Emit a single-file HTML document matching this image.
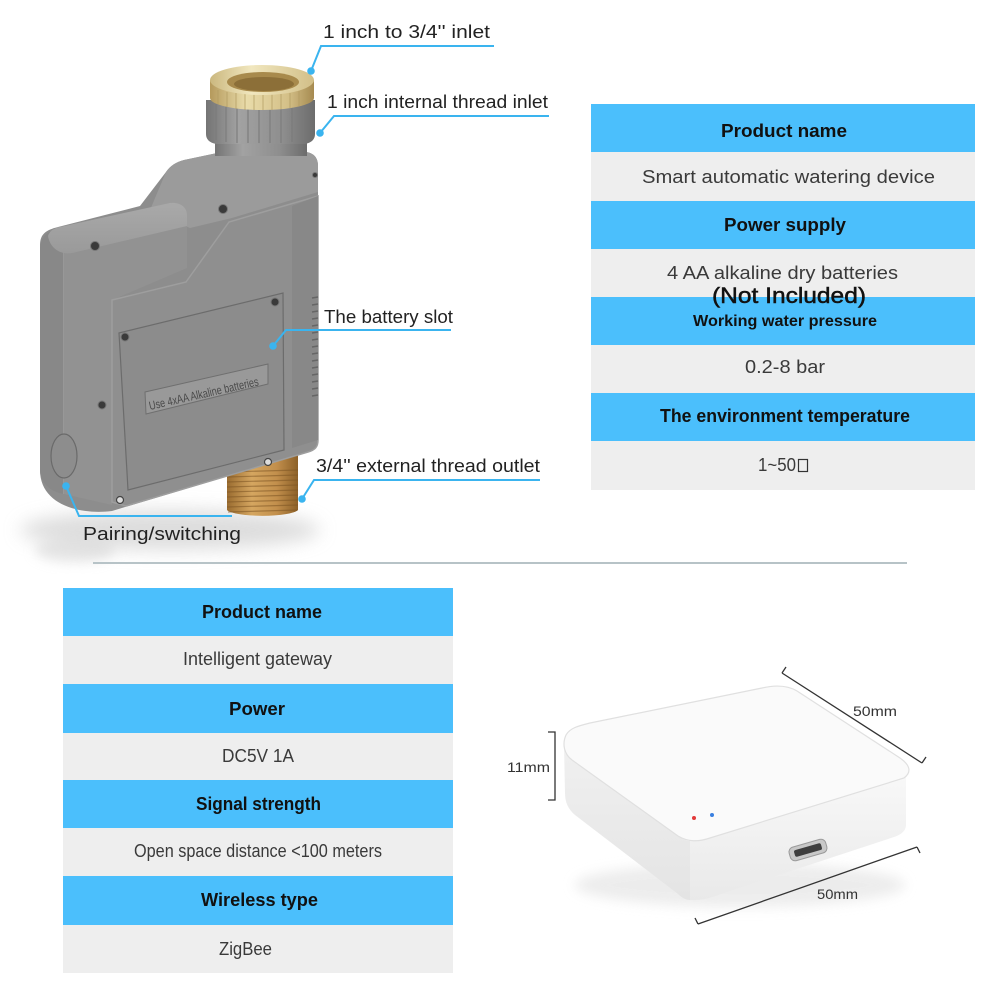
<!DOCTYPE html>
<html><head><meta charset="utf-8"><style>
html,body{margin:0;padding:0;background:#fff;}
svg{display:block;}
text{font-family:"Liberation Sans",sans-serif;}
</style></head><body>
<svg width="1000" height="1000" viewBox="0 0 1000 1000" xmlns="http://www.w3.org/2000/svg">
<defs>
  <filter id="blur" x="-50%" y="-50%" width="200%" height="200%"><feGaussianBlur stdDeviation="9"/></filter>
  <filter id="blur2" x="-50%" y="-50%" width="200%" height="200%"><feGaussianBlur stdDeviation="6"/></filter>
  <linearGradient id="brassTop" x1="0" x2="1" y1="0" y2="0">
    <stop offset="0" stop-color="#cbb87f"/><stop offset="0.4" stop-color="#f1e7bf"/><stop offset="1" stop-color="#d2bf88"/>
  </linearGradient>
  <linearGradient id="brassSide" x1="0" x2="1" y1="0" y2="0">
    <stop offset="0" stop-color="#b59a5c"/><stop offset="0.35" stop-color="#e9dcaa"/><stop offset="0.75" stop-color="#d4c088"/><stop offset="1" stop-color="#a68a50"/>
  </linearGradient>
  <linearGradient id="brassOut" x1="0" x2="1" y1="0" y2="0">
    <stop offset="0" stop-color="#9a6c30"/><stop offset="0.35" stop-color="#d5a660"/><stop offset="0.7" stop-color="#c28f4c"/><stop offset="1" stop-color="#8c6028"/>
  </linearGradient>
  <linearGradient id="nut" x1="0" x2="1" y1="0" y2="0">
    <stop offset="0" stop-color="#747474"/><stop offset="0.3" stop-color="#a2a2a2"/><stop offset="0.7" stop-color="#8e8e8e"/><stop offset="1" stop-color="#6c6c6c"/>
  </linearGradient>
  <linearGradient id="bumpTop" x1="0" x2="0" y1="0" y2="1">
    <stop offset="0" stop-color="#a9a9a9"/><stop offset="1" stop-color="#9a9a9a"/>
  </linearGradient>
  <linearGradient id="gwR" x1="0" x2="0" y1="0" y2="1">
    <stop offset="0" stop-color="#f8f8f8"/><stop offset="1" stop-color="#e9e9e9"/>
  </linearGradient>
  <linearGradient id="gwL" x1="0" x2="0" y1="0" y2="1">
    <stop offset="0" stop-color="#f0f0f0"/><stop offset="1" stop-color="#e4e4e4"/>
  </linearGradient>
</defs>

<!-- ============ DEVICE ============ -->
<ellipse cx="170" cy="530" rx="150" ry="20" fill="#cfcfcf" opacity="0.7" filter="url(#blur)"/>
<ellipse cx="75" cy="550" rx="40" ry="12" fill="#d5d5d5" opacity="0.6" filter="url(#blur2)"/>

<!-- outlet brass -->
<path d="M227,452 L298,452 L298,510 A36,7 0 0 1 227,510 Z" fill="url(#brassOut)"/>
<g stroke="#7d5524" stroke-width="1.2" opacity="0.55">
  <line x1="227" y1="472" x2="298" y2="470"/><line x1="227" y1="477" x2="298" y2="475"/>
  <line x1="227" y1="482" x2="298" y2="480"/><line x1="227" y1="487" x2="298" y2="485"/>
  <line x1="227" y1="492" x2="298" y2="490"/><line x1="227" y1="497" x2="298" y2="495"/>
  <line x1="227" y1="502" x2="298" y2="500"/><line x1="227" y1="507" x2="298" y2="505"/>
  <line x1="228" y1="512" x2="297" y2="510"/>
</g>

<!-- body silhouette -->
<path d="M40,245 C40,234 46,230 58,227 L140,206 L166,172 C170,166 176,162 184,160 L222,152 L306,152 C314,153 318,158 318,166 L318,440 C318,447 315,450 308,452 L112,511 C80,515 40,505 40,470 Z" fill="#8d8d8d"/>
<!-- upper block top -->
<path d="M166,172 C170,166 176,162 184,160 L222,152 L306,152 C314,153 318,158 318,166 L318,192 L232,218 L190,228 L150,210 Z" fill="#9b9b9b"/>
<!-- left piece side -->
<path d="M40,250 C40,238 46,232 56,230 L64,236 L64,494 C50,492 40,482 40,470 Z" fill="#888888"/>
<line x1="64" y1="238" x2="64" y2="494" stroke="#9d9d9d" stroke-width="1.5"/>
<!-- bump front face -->
<path d="M64,250 L187,222 L187,268 L112,300 L112,505 L64,494 Z" fill="#929292"/>
<!-- bump top -->
<path d="M48,236 C50,230 55,228 60,227 L170,203 C180,202 187,207 187,215 L187,226 L72,253 C60,255 50,248 48,236 Z" fill="url(#bumpTop)"/>
<!-- front face -->
<path d="M112,300 L186,282 L229,222 L318,196 L318,440 C318,447 315,450 308,452 L126,506 L112,502 Z" fill="#8f8f8f" stroke="#9e9e9e" stroke-width="1.5"/>
<!-- right side strip -->
<path d="M292,206 L318,196 L318,440 L292,448 Z" fill="#888888"/>
<!-- battery cover -->
<path d="M119,333 L283,293 L284,450 L128,490 Z" fill="#8c8c8c" stroke="#6c6c6c" stroke-width="1.2"/>
<!-- label plate -->
<path d="M145,392 L268,364 L268,384 L146,414 Z" fill="#999999" stroke="#6f6f6f" stroke-width="1"/>
<text x="150" y="410" font-size="12" fill="#4a4a4a" textLength="112" lengthAdjust="spacingAndGlyphs" transform="rotate(-12.8 150 410)">Use 4xAA Alkaline batteries</text>
<!-- vents -->
<g stroke="#666" stroke-width="1.6">
  <line x1="312" y1="298" x2="318" y2="297"/><line x1="312" y1="305" x2="318" y2="304"/>
  <line x1="312" y1="312" x2="318" y2="311"/><line x1="312" y1="319" x2="318" y2="318"/>
  <line x1="312" y1="326" x2="318" y2="325"/><line x1="312" y1="333" x2="318" y2="332"/>
  <line x1="312" y1="340" x2="318" y2="339"/><line x1="312" y1="347" x2="318" y2="346"/>
  <line x1="312" y1="354" x2="318" y2="353"/><line x1="312" y1="361" x2="318" y2="360"/>
  <line x1="312" y1="368" x2="318" y2="367"/><line x1="312" y1="375" x2="318" y2="374"/>
  <line x1="312" y1="382" x2="318" y2="381"/><line x1="312" y1="389" x2="318" y2="388"/>
  <line x1="312" y1="396" x2="318" y2="395"/>
</g>
<!-- pairing button -->
<ellipse cx="64" cy="456" rx="13" ry="22" fill="#8d8d8d" stroke="#6a6a6a" stroke-width="1.2"/>
<!-- screws -->
<g fill="#3a3a3a" stroke="#777" stroke-width="1">
  <circle cx="125" cy="337" r="4"/><circle cx="275" cy="302" r="4"/>
  <circle cx="102" cy="405" r="4"/><circle cx="223" cy="209" r="4.5"/>
  <circle cx="95" cy="246" r="4.5"/><circle cx="315" cy="175" r="2.5"/>
</g>
<g fill="#dcdcdc" stroke="#444" stroke-width="1.2">
  <circle cx="268" cy="462" r="3.5"/><circle cx="120" cy="500" r="3.5"/>
</g>

<!-- neck & nut -->
<rect x="215" y="132" width="92" height="24" fill="url(#nut)"/>
<path d="M206,100 L315,100 L315,134 Q315,142 305,144 L216,144 Q206,142 206,134 Z" fill="url(#nut)"/>
<g stroke="#7a7a7a" stroke-width="1.5" opacity="0.7">
  <line x1="216" y1="104" x2="216" y2="140"/><line x1="226" y1="104" x2="226" y2="142"/>
  <line x1="237" y1="104" x2="237" y2="143"/><line x1="248" y1="104" x2="248" y2="143"/>
  <line x1="259" y1="104" x2="259" y2="143"/><line x1="270" y1="104" x2="270" y2="143"/>
  <line x1="281" y1="104" x2="281" y2="143"/><line x1="292" y1="104" x2="292" y2="142"/>
  <line x1="303" y1="104" x2="303" y2="140"/>
</g>
<!-- brass ring -->
<path d="M210,80 L314,80 L314,98 A52,12 0 0 1 210,98 Z" fill="url(#brassSide)"/>
<g stroke="#b09a60" stroke-width="1" opacity="0.7">
  <line x1="218" y1="90" x2="218" y2="104"/><line x1="227" y1="92" x2="227" y2="107"/>
  <line x1="236" y1="93" x2="236" y2="109"/><line x1="245" y1="94" x2="245" y2="110"/>
  <line x1="254" y1="94" x2="254" y2="110"/><line x1="263" y1="94" x2="263" y2="110"/>
  <line x1="272" y1="94" x2="272" y2="110"/><line x1="281" y1="94" x2="281" y2="109"/>
  <line x1="290" y1="93" x2="290" y2="108"/><line x1="299" y1="91" x2="299" y2="106"/>
  <line x1="307" y1="89" x2="307" y2="103"/>
</g>
<ellipse cx="262" cy="80" rx="52" ry="15" fill="url(#brassTop)"/>
<ellipse cx="263" cy="82" rx="36" ry="10" fill="#a88a4c"/>
<ellipse cx="264" cy="84" rx="30" ry="7" fill="#8c6f38"/>

<!-- callouts -->
<g stroke="#3ab4ef" stroke-width="2" fill="none">
  <polyline points="311,71 321,46 494,46"/>
  <polyline points="320,133 334,116 549,116"/>
  <polyline points="273,346 286,330 451,330"/>
  <polyline points="302,499 314,480 540,480"/>
  <polyline points="66,486 79,516 232,516"/>
</g>
<g fill="#3ab4ef">
  <circle cx="311" cy="71" r="3.8"/><circle cx="320" cy="133" r="3.8"/>
  <circle cx="273" cy="346" r="3.8"/><circle cx="302" cy="499" r="3.8"/>
  <circle cx="66" cy="486" r="3.8"/>
</g>
<g font-size="18" fill="#222">
  <text x="323" y="38" textLength="167" lengthAdjust="spacingAndGlyphs">1 inch to 3/4'' inlet</text>
  <text x="327" y="108" textLength="221" lengthAdjust="spacingAndGlyphs">1 inch internal thread inlet</text>
  <text x="324" y="323" textLength="129" lengthAdjust="spacingAndGlyphs">The battery slot</text>
  <text x="316" y="472" textLength="224" lengthAdjust="spacingAndGlyphs">3/4'' external thread outlet</text>
  <text x="83" y="540" textLength="158" lengthAdjust="spacingAndGlyphs">Pairing/switching</text>
</g>

<!-- ============ TOP-RIGHT TABLE ============ -->
<rect x="591" y="104" width="384" height="48" fill="#4bbffc"/>
<rect x="591" y="152" width="384" height="49" fill="#eeeeee"/>
<rect x="591" y="201" width="384" height="48" fill="#4bbffc"/>
<rect x="591" y="249" width="384" height="48" fill="#eeeeee"/>
<rect x="591" y="297" width="384" height="48" fill="#4bbffc"/>
<rect x="591" y="345" width="384" height="48" fill="#eeeeee"/>
<rect x="591" y="393" width="384" height="48" fill="#4bbffc"/>
<rect x="591" y="441" width="384" height="49" fill="#eeeeee"/>

<g font-size="18" font-weight="bold" fill="#111">
  <text x="721" y="137" textLength="126" lengthAdjust="spacingAndGlyphs">Product name</text>
  <text x="724" y="231" textLength="122" lengthAdjust="spacingAndGlyphs">Power supply</text>
  <text x="693" y="326" font-size="16" textLength="184" lengthAdjust="spacingAndGlyphs">Working water pressure</text>
  <text x="660" y="422" textLength="250" lengthAdjust="spacingAndGlyphs">The environment temperature</text>
</g>
<g font-size="18" fill="#3a3a3a">
  <text x="642" y="183" textLength="293" lengthAdjust="spacingAndGlyphs">Smart automatic watering device</text>
  <text x="667" y="279" textLength="231" lengthAdjust="spacingAndGlyphs">4 AA alkaline dry batteries</text>
  <text x="745" y="373" textLength="80" lengthAdjust="spacingAndGlyphs">0.2-8 bar</text>
  <text x="758" y="471" textLength="38" lengthAdjust="spacingAndGlyphs">1~50</text>
</g>
<rect x="798.5" y="459.5" width="9" height="12" fill="none" stroke="#333" stroke-width="1.2"/>
<text x="712" y="303" font-size="22" fill="#111" stroke="#111" stroke-width="0.5" textLength="154" lengthAdjust="spacingAndGlyphs">(Not Included)</text>

<!-- separator -->
<line x1="93" y1="563" x2="907" y2="563" stroke="#b7c3c7" stroke-width="2"/>

<!-- ============ BOTTOM-LEFT TABLE ============ -->
<rect x="63" y="588" width="390" height="48" fill="#4bbffc"/>
<rect x="63" y="636" width="390" height="48" fill="#eeeeee"/>
<rect x="63" y="684" width="390" height="49" fill="#4bbffc"/>
<rect x="63" y="733" width="390" height="47" fill="#eeeeee"/>
<rect x="63" y="780" width="390" height="48" fill="#4bbffc"/>
<rect x="63" y="828" width="390" height="48" fill="#eeeeee"/>
<rect x="63" y="876" width="390" height="49" fill="#4bbffc"/>
<rect x="63" y="925" width="390" height="48" fill="#eeeeee"/>

<g font-size="18" font-weight="bold" fill="#111">
  <text x="202" y="618" textLength="120" lengthAdjust="spacingAndGlyphs">Product name</text>
  <text x="229" y="715" textLength="56" lengthAdjust="spacingAndGlyphs">Power</text>
  <text x="196" y="810" textLength="125" lengthAdjust="spacingAndGlyphs">Signal strength</text>
  <text x="201" y="906" textLength="117" lengthAdjust="spacingAndGlyphs">Wireless type</text>
</g>
<g font-size="18" fill="#3a3a3a">
  <text x="183" y="665" textLength="149" lengthAdjust="spacingAndGlyphs">Intelligent gateway</text>
  <text x="222" y="762" textLength="72" lengthAdjust="spacingAndGlyphs">DC5V 1A</text>
  <text x="134" y="857" textLength="248" lengthAdjust="spacingAndGlyphs">Open space distance &lt;100 meters</text>
  <text x="219" y="955" textLength="53" lengthAdjust="spacingAndGlyphs">ZigBee</text>
</g>

<!-- ============ GATEWAY ============ -->
<ellipse cx="740" cy="885" rx="165" ry="22" fill="#e8e8e8" opacity="0.8" filter="url(#blur2)"/>
<!-- left side face -->
<path d="M564,745 L572,760 L678,836 C684,840 688,841 690,841 L690,900 C686,900 682,898 678,894 L575,815 C568,809 565,802 565,793 Z" fill="url(#gwL)"/>
<!-- right side face -->
<path d="M690,841 C696,841 703,840 710,838 L906,776 L906,826 C905,832 900,835 894,837 L712,897 C704,900 697,900 690,900 Z" fill="url(#gwR)"/>
<!-- top face -->
<path d="M566,735 C570,728 578,726 590,723 L762,688 C775,685 787,685 797,691 L900,758 C910,765 912,772 904,778 L710,838 C698,842 688,842 678,836 L572,760 C564,754 562,744 566,735 Z" fill="#fafafa" stroke="#e0e0e0" stroke-width="1.2"/>
<!-- LEDs -->
<circle cx="694" cy="818" r="2" fill="#e23a3a"/>
<circle cx="712" cy="815" r="2" fill="#3a7fe0"/>
<!-- USB port -->
<g transform="translate(808,850) rotate(-16)">
  <rect x="-19" y="-7" width="38" height="14" rx="5" fill="#c8c8c8" stroke="#9a9a9a" stroke-width="1"/>
  <rect x="-14" y="-3.5" width="28" height="7" rx="2" fill="#3e3e3e"/>
</g>

<!-- dimension lines -->
<g stroke="#333" stroke-width="1.3" fill="none">
  <line x1="782" y1="673" x2="922" y2="763"/>
  <line x1="782" y1="673" x2="786" y2="667"/>
  <line x1="922" y1="763" x2="926" y2="757"/>
  <line x1="698" y1="924" x2="917" y2="847"/>
  <line x1="698" y1="924" x2="695" y2="918"/>
  <line x1="917" y1="847" x2="920" y2="853"/>
  <polyline points="548,732 555,732 555,800 548,800"/>
</g>
<g font-size="14" fill="#333">
  <text x="853" y="716" textLength="44" lengthAdjust="spacingAndGlyphs">50mm</text>
  <text x="507" y="772" textLength="43" lengthAdjust="spacingAndGlyphs">11mm</text>
  <text x="817" y="899" textLength="41" lengthAdjust="spacingAndGlyphs">50mm</text>
</g>
</svg>
</body></html>
